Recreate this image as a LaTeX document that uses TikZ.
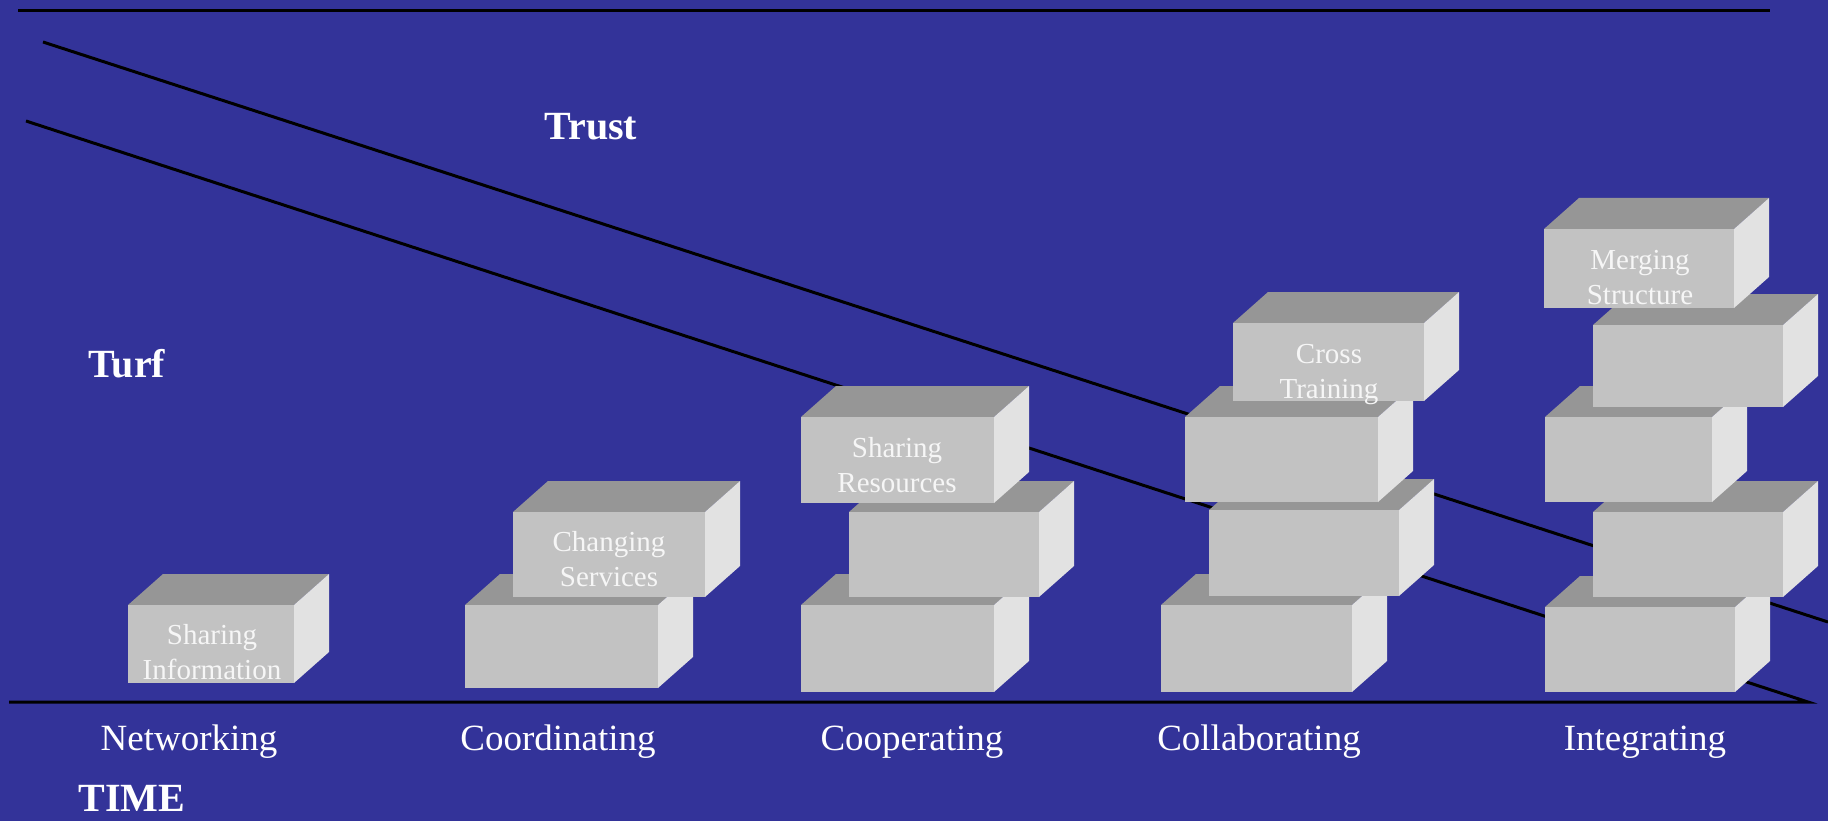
\documentclass[tikz,border=0pt]{standalone}
\usepackage{fontspec}
\setmainfont{Liberation Serif}
\definecolor{bg}{HTML}{333399}
\definecolor{topc}{HTML}{969696}
\definecolor{frontc}{HTML}{C2C2C2}
\definecolor{sidec}{HTML}{E2E2E2}
\definecolor{blktxt}{HTML}{F6F6F6}
\newcommand{\cubeblk}[4]{%
  \fill[topc] (#1,#2) -- ++(35,-31) -- ++(#3,0) -- ++(-35,31) -- cycle;
  \fill[frontc] (#1,#2) rectangle ++(#3,#4);
  \fill[sidec] ({#1+#3},#2) -- ++(35,-31) -- ++(0,#4) -- ++(-35,31) -- cycle;
}
\begin{document}
\begin{tikzpicture}[x=1pt,y=-1pt,
  rule/.style={line width=3pt,black},
  bigbold/.style={text=white,inner sep=0pt,anchor=base,font=\fontsize{40}{48}\selectfont\bfseries},
  stagelbl/.style={text=white,inner sep=0pt,anchor=base,font=\fontsize{37}{44}\selectfont},
  blklbl/.style={text=blktxt,inner sep=0pt,align=center,font=\fontsize{29}{35}\selectfont}]
\fill[bg] (0,0) rectangle (1828,821);
\useasboundingbox (0,0) rectangle (1828,821);
% lines
\coordinate (topA) at (18,11);
\coordinate (topB) at (1770,11);
\coordinate (trustA) at (43,42);
\coordinate (trustB) at (1828,622);
\coordinate (turfA) at (26,121);
\coordinate (turfB) at (1808,702);
\coordinate (baseA) at (9,702);
\draw[rule] (topA) -- (topB);
\draw[rule] (trustA) -- (trustB);
\draw[rule] (baseA) -- (turfB) -- (turfA);
% Networking
\cubeblk{128}{605}{166}{78}
% Coordinating
\cubeblk{465}{605}{193}{83}
\cubeblk{513}{512}{192}{85}
% Cooperating
\cubeblk{801}{605}{193}{87}
\cubeblk{849}{512}{190}{85}
\cubeblk{801}{417}{193}{86}
% Collaborating
\cubeblk{1161}{605}{191}{87}
\cubeblk{1209}{510}{190}{86}
\cubeblk{1185}{417}{193}{85}
\cubeblk{1233}{323}{191}{78}
% Integrating
\cubeblk{1545}{607}{190}{85}
\cubeblk{1593}{512}{190}{85}
\cubeblk{1545}{417}{167}{85}
\cubeblk{1593}{325}{190}{82}
\cubeblk{1544}{229}{190}{79}
% block texts
\node[blklbl] (si) at (212,652.5) {Sharing\\Information};
\node[blklbl] (cs) at (609,559.5) {Changing\\Services};
\node[blklbl] (sr) at (897,465) {Sharing\\Resources};
\node[blklbl] (ct) at (1329,374.5) {Cross\\Training};
\node[blklbl] (ms) at (1640,277.5) {Merging\\Structure};
% big labels
\node[bigbold] (trust) at (591,140) {Trust};
\node[bigbold] (turf) at (127,377) {Turf};
\node[bigbold] (time) at (132,811) {TIME};
% stage labels
\node[stagelbl] (net) at (189,750) {Networking};
\node[stagelbl] (coord) at (558,750) {Coordinating};
\node[stagelbl] (coop) at (912,750) {Cooperating};
\node[stagelbl] (collab) at (1259,750) {Collaborating};
\node[stagelbl] (integ) at (1645,750) {Integrating};
\end{tikzpicture}
\end{document}
